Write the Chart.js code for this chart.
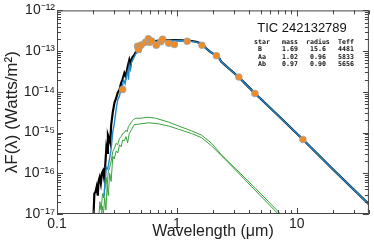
<!DOCTYPE html>
<html><head><meta charset="utf-8">
<script src="https://cdn.jsdelivr.net/npm/chart.js@4/dist/chart.umd.min.js"></script>
<style>html,body{margin:0;padding:0;background:#fff}canvas{display:block}</style>
</head><body>
<canvas id="c" width="374" height="248"></canvas>
<script>
// Photometry (wavelength in micron, lambda*F in W/m^2)
const obsWave = [0.353, 0.470, 0.478, 0.504, 0.546, 0.578, 0.594, 0.617, 0.673, 0.736, 0.760, 0.855, 0.953, 1.22, 1.62, 2.14, 3.29, 4.48, 11.27];
const obsFlux = [1.14e-14, 1.32e-13, 1.10e-13, 1.42e-13, 1.65e-13, 2.01e-13, 1.65e-13, 1.77e-13, 1.40e-13, 1.71e-13, 1.95e-13, 1.56e-13, 1.45e-13, 1.74e-13, 1.40e-13, 7.74e-14, 2.30e-14, 9.12e-15, 6.79e-16];

// Full-resolution model (black), log10 flux
const blackWave = [0.200, 0.205, 0.210, 0.214, 0.219, 0.222, 0.227, 0.232, 0.237, 0.242, 0.247, 0.252, 0.258, 0.262, 0.266, 0.272, 0.278, 0.283, 0.292, 0.302, 0.312, 0.321, 0.332, 0.343, 0.352, 0.365, 0.375, 0.389, 0.401, 0.410, 0.418, 0.428, 0.440, 0.455, 0.468, 0.484, 0.495, 0.515, 0.55, 0.585, 0.64, 0.71, 0.80, 0.97, 1.10, 1.25, 1.45, 1.61, 1.75, 1.9, 2.14, 2.25, 2.35, 2.7, 3.29, 3.9, 4.48, 5.0, 7.0, 11.27, 20, 40];
const blackLogFlux = [-17.3, -16.5, -16.45, -16.34, -16.55, -16.2, -16.10, -16.25, -16.00, -15.94, -16.1, -15.85, -15.38, -15.5, -15.06, -15.15, -15.25, -14.82, -14.50, -14.26, -14.15, -14.02, -13.95, -13.78, -13.70, -13.54, -13.62, -13.38, -13.22, -13.35, -13.20, -13.14, -13.10, -13.02, -12.98, -12.94, -12.98, -12.86, -12.82, -12.78, -12.76, -12.74, -12.735, -12.73, -12.735, -12.74, -12.77, -12.82, -12.93, -13.02, -13.11, -13.17, -13.26, -13.42, -13.64, -13.86, -14.04, -14.17, -14.58, -15.17, -15.90, -16.76];

// Combined model (blue), log10 flux
const blueWave = [0.245, 0.250, 0.258, 0.265, 0.275, 0.283, 0.292, 0.300, 0.312, 0.321, 0.332, 0.343, 0.352, 0.360, 0.370, 0.380, 0.389, 0.395, 0.401, 0.410, 0.418, 0.428, 0.440, 0.455, 0.468, 0.484, 0.495, 0.515, 0.55, 0.585, 0.64, 0.71, 0.80, 0.97, 1.10, 1.25, 1.45, 1.61, 1.75, 1.9, 2.14, 2.25, 2.35, 2.7, 3.29, 3.9, 4.48, 5.0, 7.0, 11.27, 20, 40];
const blueLogFlux = [-16.6, -16.34, -15.86, -15.9, -15.62, -15.4, -14.98, -14.8, -14.42, -14.2, -14.10, -13.92, -13.85, -13.70, -13.80, -13.60, -13.50, -13.70, -13.35, -13.45, -13.28, -13.22, -13.15, -13.06, -13.04, -12.97, -13.02, -12.88, -12.83, -12.79, -12.77, -12.75, -12.745, -12.74, -12.745, -12.75, -12.78, -12.83, -12.93, -13.02, -13.11, -13.17, -13.26, -13.42, -13.64, -13.86, -14.04, -14.17, -14.58, -15.17, -15.90, -16.76];

// Component models (green), log10 flux
const greenAWave = [0.222, 0.228, 0.233, 0.240, 0.246, 0.250, 0.257, 0.262, 0.268, 0.275, 0.283, 0.292, 0.300, 0.312, 0.320, 0.332, 0.343, 0.353, 0.365, 0.376, 0.385, 0.393, 0.401, 0.415, 0.427, 0.440, 0.455, 0.501, 0.568, 0.665, 0.855, 1.035, 1.33, 1.61, 1.95, 2.35, 2.67, 4.5, 7.33, 8.0];
const greenALogFlux = [-17.2, -16.7, -16.9, -16.5, -16.6, -16.42, -16.1, -16.3, -15.95, -15.865, -15.7, -15.464, -15.40, -15.264, -15.30, -15.144, -15.10, -15.024, -15.00, -14.943, -14.98, -14.86, -14.823, -14.76, -14.703, -14.67, -14.648, -14.648, -14.624, -14.648, -14.744, -14.840, -14.960, -15.063, -15.264, -15.543, -15.704, -16.36, -17.0, -17.12];
const greenBWave = [0.232, 0.238, 0.244, 0.250, 0.256, 0.262, 0.268, 0.275, 0.283, 0.292, 0.300, 0.312, 0.322, 0.332, 0.343, 0.353, 0.365, 0.376, 0.388, 0.401, 0.420, 0.440, 0.501, 0.585, 0.694, 0.855, 1.035, 1.33, 1.61, 1.95, 2.54, 7.0, 7.6];
const greenBLogFlux = [-17.2, -16.8, -17.0, -16.6, -16.9, -16.3, -16.55, -16.0, -16.2, -15.584, -15.65, -15.45, -15.5, -15.30, -15.35, -15.184, -15.20, -15.10, -15.25, -15.024, -14.92, -14.808, -14.784, -14.760, -14.784, -14.840, -14.920, -15.024, -15.128, -15.328, -15.664, -17.0, -17.1];

const xTickLabels = {'-1': '0.1', '0': '1', '1': '10'};
const yTickLabels = {'-17': '10⁻¹⁷', '-16': '10⁻¹⁶', '-15': '10⁻¹⁵', '-14': '10⁻¹⁴', '-13': '10⁻¹³', '-12': '10⁻¹²'};

const titleText = 'TIC 242132789';
const tableHeader = ['star', 'mass', 'radius', 'Teff'];
const tableStars = ['B', 'Aa', 'Ab'];
const tableMass = ['1.69', '1.02', '0.97'];
const tableRadius = ['15.6', '0.96', '0.90'];
const tableTeff = ['4481', '5833', '5656'];

const FONT = '"Liberation Sans", Helvetica, Arial, sans-serif';
function toPts(w, lf) { return w.map((x, i) => ({x: x, y: Math.pow(10, lf[i])})); }
function expOf(v) { const e = Math.log10(v); return Math.abs(e - Math.round(e)) < 1e-6 ? Math.round(e) : null; }

const framePlugin = {
  id: 'frame',
  afterDraw(chart) {
    const {ctx, chartArea: a, scales: {x, y}} = chart;
    ctx.save();
    ctx.strokeStyle = '#444';
    ctx.lineWidth = 1;
    ctx.strokeRect(a.left + 0.5, a.top + 0.5, a.right - a.left - 1, a.bottom - a.top - 1);
    ctx.beginPath();
    for (let d = -1; d <= 1; d++) {
      for (let m = 1; m <= 9; m++) {
        const v = m * Math.pow(10, d);
        if (v < 0.1 || v > 40) continue;
        const p = Math.round(x.getPixelForValue(v)) + 0.5;
        const len = m === 1 ? 6 : 4;
        ctx.moveTo(p, a.bottom); ctx.lineTo(p, a.bottom - len);
        ctx.moveTo(p, a.top); ctx.lineTo(p, a.top + len);
      }
    }
    for (let d = -17; d <= -12; d++) {
      for (let m = 1; m <= 9; m++) {
        const v = m * Math.pow(10, d);
        if (v > 1.0001e-12) continue;
        const p = Math.round(y.getPixelForValue(v)) + 0.5;
        const len = m === 1 ? 6 : 4;
        ctx.moveTo(a.left, p); ctx.lineTo(a.left + len, p);
        ctx.moveTo(a.right, p); ctx.lineTo(a.right - len, p);
      }
    }
    ctx.stroke();
    // annotation
    ctx.fillStyle = '#111';
    ctx.textBaseline = 'middle';
    ctx.textAlign = 'center';
    ctx.font = '13px ' + FONT;
    ctx.fillText(titleText, 302, 28);
    ctx.font = 'bold 6.6px "DejaVu Sans Mono", "Liberation Mono", monospace';
    ctx.textAlign = 'left';
    const rows = [42.5, 49.5, 57, 64.5];
    ctx.fillText(tableHeader[0], 254, rows[0]);
    ctx.fillText(tableHeader[1], 282, rows[0]);
    ctx.fillText(tableHeader[2], 306, rows[0]);
    ctx.fillText(tableHeader[3], 338, rows[0]);
    for (let i = 0; i < 3; i++) {
      ctx.fillText(tableStars[i], 258, rows[i + 1]);
      ctx.fillText(tableMass[i], 282, rows[i + 1]);
      ctx.fillText(tableRadius[i], 310, rows[i + 1]);
      ctx.fillText(tableTeff[i], 338, rows[i + 1]);
    }
    ctx.restore();
  }
};

new Chart(document.getElementById('c'), {
  type: 'scatter',
  data: {
    datasets: [
      {data: toPts(obsWave, obsFlux.map(Math.log10)), showLine: false, pointRadius: 3.2, pointBackgroundColor: '#f4891f', pointBorderColor: 'rgba(160,160,160,0.8)', pointBorderWidth: 1.1, order: 0},
      {data: toPts(blueWave, blueLogFlux), showLine: true, pointRadius: 0, borderColor: '#2288c8', borderWidth: 1.4, order: 1},
      {data: toPts(greenAWave, greenALogFlux), showLine: true, pointRadius: 0, borderColor: '#38a23c', borderWidth: 1, order: 2},
      {data: toPts(greenBWave, greenBLogFlux), showLine: true, pointRadius: 0, borderColor: '#38a23c', borderWidth: 1, order: 2},
      {data: toPts(blackWave, blackLogFlux), showLine: true, pointRadius: 0, borderColor: '#000', borderWidth: 2.2, order: 3}
    ]
  },
  options: {
    responsive: false,
    animation: false,
    events: [],
    layout: {padding: {left: 0, right: 2, top: 6, bottom: 0}},
    plugins: {legend: {display: false}, tooltip: {enabled: false}},
    scales: {
      x: {
        type: 'logarithmic', min: 0.1, max: 40,
        grid: {display: false, drawTicks: false},
        border: {display: false},
        ticks: {autoSkip: false, maxRotation: 0, padding: 2, color: '#222', font: {family: FONT, size: 14},
          callback: (v) => { const e = expOf(v); return e !== null && xTickLabels[e] ? xTickLabels[e] : ''; }},
        title: {display: true, text: 'Wavelength (μm)', color: '#222', font: {family: FONT, size: 16}, padding: {top: 0, bottom: 7}},
        afterFit: (s) => { s.height = 34; }
      },
      y: {
        type: 'logarithmic', min: 1e-17, max: 1e-12,
        grid: {display: false, drawTicks: false},
        border: {display: false},
        ticks: {autoSkip: false, padding: 2, color: '#222', font: {family: FONT, size: 14},
          callback: (v) => { const e = expOf(v); return e !== null && yTickLabels[e] ? yTickLabels[e] : ''; }},
        title: {display: true, text: 'λF(λ) (Watts/m²)', color: '#222', font: {family: FONT, size: 17}, padding: {top: 2, bottom: 0}},
        afterFit: (s) => { s.width = 57; }
      }
    }
  },
  plugins: [framePlugin]
});
</script>
</body></html>
